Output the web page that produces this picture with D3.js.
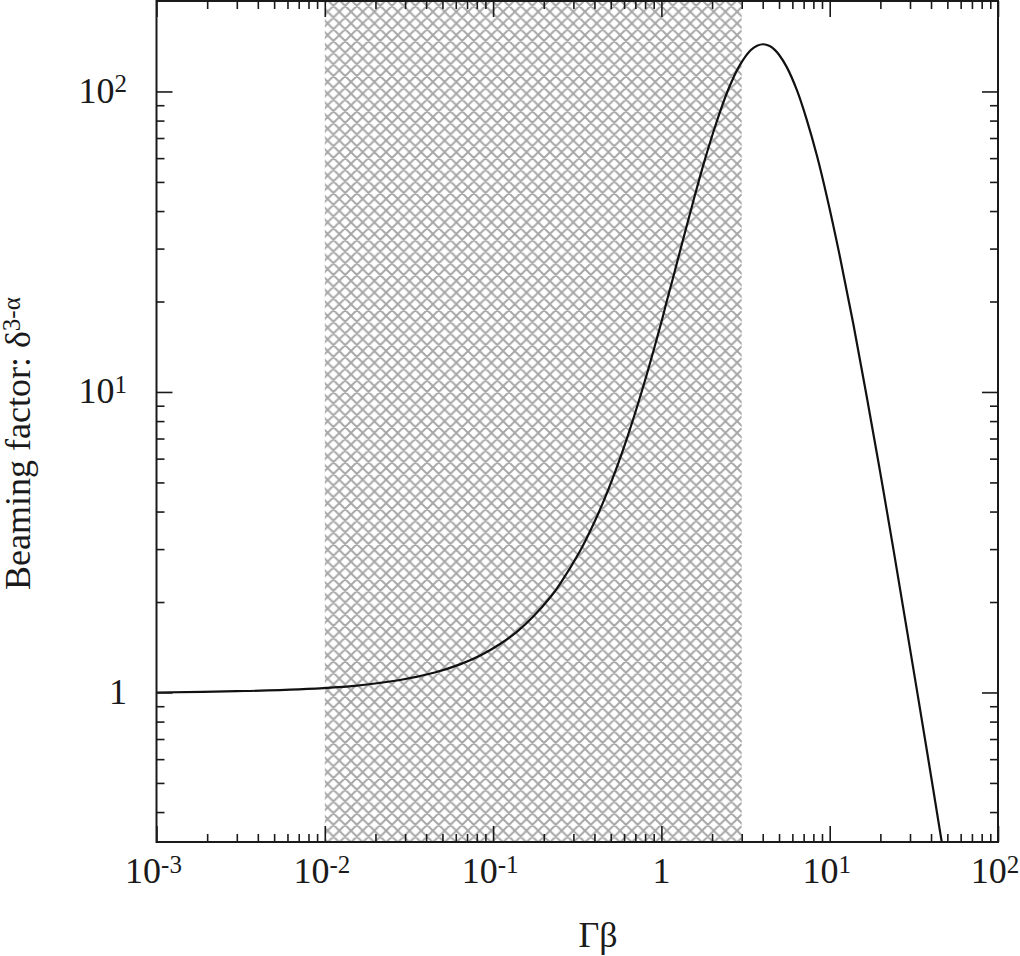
<!DOCTYPE html>
<html>
<head>
<meta charset="utf-8">
<script src="https://cdn.jsdelivr.net/npm/d3@7"></script>
<style>
  body { margin: 0; background: #fff; }
  svg { display: block; font-family: "Liberation Serif", "Times New Roman", serif; }
  .tick line { stroke: #1a1a1a; stroke-width: 1.6px; }
  .domain { display: none; }
</style>
</head>
<body>
<svg></svg>
<script>
// Gamma*beta (x) vs beaming factor (y)
var gammaBeta = [0.001, 0.003, 0.007, 0.015, 0.028, 0.045, 0.0635, 0.085, 0.11, 0.14, 0.1726, 0.218, 0.25,
  0.328, 0.40, 0.473, 0.55, 0.622, 0.72, 0.821, 1.0, 1.08, 1.15, 1.3, 1.55, 1.8, 2.13, 2.5, 2.93, 3.4, 3.7,
  4.04, 4.4, 4.7, 5.0, 5.56, 6.4, 7.3, 8.4, 9.6, 11.5, 13.8, 16.5, 19.9, 24, 30, 38, 46.4];
var beaming = [1.0, 1.01, 1.024, 1.052, 1.10, 1.165, 1.24, 1.333, 1.45, 1.60, 1.785, 2.07, 2.30,
  2.95, 3.69, 4.59, 5.72, 6.97, 9.0, 11.5, 17.1, 20.2, 23.0, 29.9, 43.3, 58.5, 79.3, 101.7, 122.6, 137.4, 142,
  143.6, 141.6, 137.8, 132.5, 120.5, 100.6, 80.6, 61.1, 44.9, 28.2, 16.9, 9.83, 5.45, 2.96, 1.40, 0.629, 0.316];

// shaded (cross-hatched) range of Gamma*beta
var hatchRange = [0.01, 3];

var xMajor = [1e-3, 1e-2, 1e-1, 1, 10, 100];
var xLabels = [["10", "-3"], ["10", "-2"], ["10", "-1"], ["1", ""], ["10", "1"], ["10", "2"]];
var yMajor = [1, 10, 100];
var yLabels = [["1", ""], ["10", "1"], ["10", "2"]];

var width = 1020, height = 956;
var plotLeft = 156.5, plotRight = 998, plotTop = 1, plotBottom = 842;

var x = d3.scaleLog().domain([1e-3, 100]).range([plotLeft, plotRight]);
var y = d3.scaleLog().domain([0.318, 200]).range([plotBottom, plotTop]);

var xMinor = [];
for (var e = -3; e < 2; e++) {
  for (var m = 2; m < 10; m++) xMinor.push(m * Math.pow(10, e));
}
var yMinor = [];
for (var e2 = -1; e2 < 3; e2++) {
  for (var m2 = 2; m2 < 10; m2++) {
    var v = m2 * Math.pow(10, e2);
    if (v > 0.318 && v < 200) yMinor.push(v);
  }
}

var svg = d3.select("svg")
  .attr("width", width)
  .attr("height", height);

var defs = svg.append("defs");

var pat = defs.append("pattern")
  .attr("id", "hatch")
  .attr("patternUnits", "userSpaceOnUse")
  .attr("width", 11.7)
  .attr("height", 11.7);
pat.append("path")
  .attr("d", "M0,0L11.7,11.7M11.7,0L0,11.7M-2,9.7L2,13.7M9.7,-2L13.7,2M-2,2L2,-2M9.7,13.7L13.7,9.7")
  .attr("stroke", "#a6a6a6")
  .attr("stroke-width", 1.9)
  .attr("fill", "none");

defs.append("clipPath").attr("id", "plotclip")
  .append("rect")
  .attr("x", plotLeft).attr("y", plotTop)
  .attr("width", plotRight - plotLeft).attr("height", plotBottom - plotTop);

// hatched band
svg.append("rect")
  .attr("x", x(hatchRange[0]))
  .attr("y", plotTop)
  .attr("width", x(hatchRange[1]) - x(hatchRange[0]))
  .attr("height", plotBottom - plotTop)
  .attr("fill", "url(#hatch)");

// curve
var points = gammaBeta.map(function(d, i) { return [d, beaming[i]]; });
var line = d3.line()
  .x(function(d) { return x(d[0]); })
  .y(function(d) { return y(d[1]); })
  .curve(d3.curveCatmullRom.alpha(0.5));

svg.append("path")
  .datum(points)
  .attr("clip-path", "url(#plotclip)")
  .attr("d", line)
  .attr("fill", "none")
  .attr("stroke", "#111")
  .attr("stroke-width", 2.2);

// ticks on all four sides, pointing inward
function ticks(axisFn, scale, values, size, tx, ty) {
  svg.append("g")
    .attr("transform", "translate(" + tx + "," + ty + ")")
    .call(axisFn(scale).tickValues(values).tickSizeInner(size).tickSizeOuter(0).tickFormat(""));
}
ticks(d3.axisBottom, x, xMajor, -16, 0, plotBottom);
ticks(d3.axisBottom, x, xMinor, -8, 0, plotBottom);
ticks(d3.axisTop, x, xMajor, -16, 0, plotTop);
ticks(d3.axisTop, x, xMinor, -8, 0, plotTop);
ticks(d3.axisLeft, y, yMajor, -16, plotLeft, 0);
ticks(d3.axisLeft, y, yMinor, -8, plotLeft, 0);
ticks(d3.axisRight, y, yMajor, -16, plotRight, 0);
ticks(d3.axisRight, y, yMinor, -8, plotRight, 0);

// frame
svg.append("rect")
  .attr("x", plotLeft).attr("y", plotTop)
  .attr("width", plotRight - plotLeft).attr("height", plotBottom - plotTop)
  .attr("fill", "none")
  .attr("stroke", "#1a1a1a")
  .attr("stroke-width", 2);

// tick labels
function label(sel, parts) {
  sel.append("tspan").text(parts[0]);
  if (parts[1]) {
    sel.append("tspan")
      .attr("dy", "-0.42em")
      .style("font-size", "25px")
      .text(parts[1]);
  }
}

svg.append("g").selectAll("text")
  .data(xMajor)
  .enter()
  .append("text")
  .attr("x", function(d, i) { return x(d) - (xLabels[i][1] ? 3 : 0); })
  .attr("y", 883)
  .attr("text-anchor", "middle")
  .style("font-size", "36px")
  .attr("fill", "#1a1a1a")
  .each(function(d, i) { label(d3.select(this), xLabels[i]); });

svg.append("g").selectAll("text")
  .data(yMajor)
  .enter()
  .append("text")
  .attr("x", 127)
  .attr("y", function(d) { return y(d) + 11.5; })
  .attr("text-anchor", "end")
  .style("font-size", "36px")
  .attr("fill", "#1a1a1a")
  .each(function(d, i) { label(d3.select(this), yLabels[i]); });

// axis titles
svg.append("text")
  .attr("x", 598)
  .attr("y", 947)
  .attr("text-anchor", "middle")
  .style("font-size", "36px")
  .attr("fill", "#1a1a1a")
  .text("Γβ");

var yt = svg.append("text")
  .attr("transform", "translate(30,590) rotate(-90)")
  .attr("text-anchor", "start")
  .style("font-size", "36px")
  .attr("fill", "#1a1a1a");
yt.append("tspan").text("Beaming factor: δ");
yt.append("tspan").attr("dy", "-0.42em").style("font-size", "25px").text("3-α");
</script>
</body>
</html>
